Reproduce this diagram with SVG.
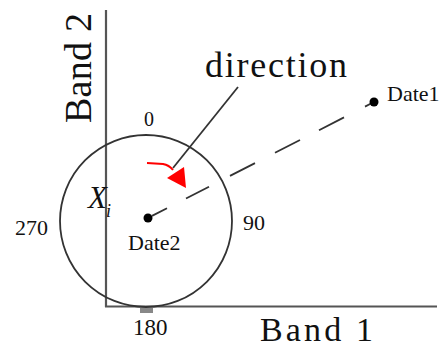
<svg xmlns="http://www.w3.org/2000/svg" width="447" height="349" viewBox="0 0 447 349">
<style>
.t{fill:#111}
.axis{stroke:#555;stroke-width:2.2;fill:none}
.ln{stroke:#333;stroke-width:1.8;fill:none}
</style>
<rect width="447" height="349" fill="#fff"/>
<g id="axes" font-family="'Liberation Serif', 'DejaVu Serif', serif">
<line class="axis" x1="106" y1="10" x2="106" y2="307"/>
<line class="axis" x1="105" y1="306.5" x2="437" y2="306.5"/>
<rect x="140" y="308" width="13" height="5" fill="#888"/>
<text class="t" x="260" y="341" font-size="34" textLength="113" lengthAdjust="spacing">Band 1</text>
<text class="t" transform="translate(91,123) rotate(-90)" font-size="38" textLength="110" lengthAdjust="spacing">Band 2</text>
</g>
<g id="circle" font-family="'Liberation Serif', 'DejaVu Serif', serif">
<circle class="ln" cx="146" cy="221" r="86"/>
<text class="t" x="149" y="126" font-size="20" text-anchor="middle">0</text>
<text class="t" x="243" y="230" font-size="22">90</text>
<text class="t" x="15" y="235" font-size="22">270</text>
<text class="t" x="133" y="335" font-size="23">180</text>
</g>
<g id="connectors">
<path class="ln" d="M152,215.9 L167,208.2 M186,198.5 L209,186.7 M230,175.9 L255,163.1 M275,152.8 L300,140 M319,130.2 L344,117.4 M365,106.6 L371,103.5"/>
<line class="ln" x1="238" y1="87" x2="173" y2="168"/>
<path d="M147,163 L163,164 Q169,165 173,170" stroke="#f00" stroke-width="2" fill="none"/>
<polygon points="167,178 184,167 186,188" fill="#f00"/>
</g>
<g id="date2" font-family="'Liberation Serif', 'DejaVu Serif', serif">
<circle cx="148" cy="218" r="4.5" fill="#000"/>
<text class="t" x="128" y="250" font-size="22">Date2</text>
</g>
<g id="date1" font-family="'Liberation Serif', 'DejaVu Serif', serif">
<circle cx="374" cy="102" r="4.5" fill="#000"/>
<text class="t" x="387" y="101" font-size="22">Date1</text>
</g>
<g id="label-direction" font-family="'Liberation Serif', 'DejaVu Serif', serif">
<text class="t" x="205" y="77" font-size="36" textLength="142" lengthAdjust="spacing">direction</text>
</g>
<g id="label-xi" font-family="'Liberation Serif', 'DejaVu Serif', serif">
<text class="t" x="88" y="208" font-size="31" font-style="italic">X</text>
<text class="t" x="106" y="217" font-size="18" font-style="italic">i</text>
</g>
</svg>
